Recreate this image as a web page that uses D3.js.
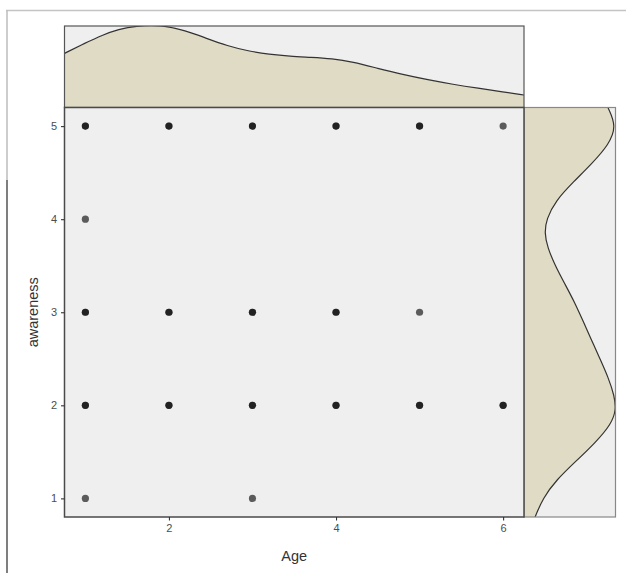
<!DOCTYPE html>
<html><head><meta charset="utf-8">
<script src="https://cdn.jsdelivr.net/npm/d3@7"></script>
<style>body{margin:0;background:#fff}svg{display:block}</style>
</head><body>
<svg id="c" width="626" height="573"></svg>
<script>
// ---- data ----
const ages = [1, 2, 3, 4, 5, 6];
const awarenessLevels = [1, 2, 3, 4, 5];
const xTicks = [2, 4, 6];
const yTicks = [1, 2, 3, 4, 5];
// observed (age, awareness, overlapping count)
const pointAge =       [1,2,3,4,5,6, 1, 1,2,3,4,5, 1,2,3,4,5,6, 1,3];
const pointAwareness = [5,5,5,5,5,5, 4, 3,3,3,3,3, 2,2,2,2,2,2, 1,1];
const pointCount =     [2,2,2,2,2,1, 1, 2,2,2,2,1, 2,2,2,2,2,2, 1,1];
// marginal density of Age
const ageDensX = [0.75,1.0,1.2,1.4,1.6,1.9,2.2,2.45,2.7,2.95,3.2,3.45,3.7,3.95,4.2,4.5,4.8,5.1,5.4,5.7,6.0,6.26];
const ageDensY = [0.166,0.198,0.222,0.240,0.250,0.254,0.236,0.212,0.189,0.173,0.163,0.157,0.154,0.150,0.140,0.120,0.101,0.085,0.071,0.059,0.048,0.038];
// marginal density of awareness
const awDensX = [5.205,5.0,4.8,4.6,4.4,4.2,4.0,3.85,3.7,3.5,3.3,3.1,2.9,2.7,2.5,2.3,2.1,1.95,1.8,1.6,1.4,1.2,1.0,0.795];
const awDensY = [0.322,0.356,0.326,0.262,0.190,0.122,0.086,0.079,0.090,0.120,0.158,0.196,0.228,0.260,0.292,0.324,0.348,0.354,0.336,0.275,0.200,0.125,0.072,0.042];

const svg = d3.select("#c");
const font = "'Liberation Sans', Arial, sans-serif";

// frame lines
svg.append("line").attr("x1",6).attr("x2",626).attr("y1",10.5).attr("y2",10.5).attr("stroke","#c4c4c4").attr("stroke-width",1.5);
svg.append("line").attr("x1",7).attr("x2",7).attr("y1",10).attr("y2",180).attr("stroke","#bdbdbd").attr("stroke-width",1.5);
svg.append("line").attr("x1",7).attr("x2",7).attr("y1",180).attr("y2",573).attr("stroke","#555").attr("stroke-width",1.5);

const L = 64.5, R = 524, T = 107.5, B = 517;
const x = d3.scaleLinear().domain([0.75, 6.25]).range([L, R]);
const y = d3.scaleLinear().domain([0.8, 5.2]).range([B, T]);

const bg = "#efefef", fill = "#e0dbc4";
// top marginal panel
const TT = 26;
const yd = d3.scaleLinear().domain([0, 0.25]).range([T, TT]);
svg.append("clipPath").attr("id","clipTop").append("rect").attr("x",L).attr("y",TT).attr("width",R-L).attr("height",T-TT);
svg.append("rect").attr("x",L).attr("y",TT).attr("width",R-L).attr("height",T-TT).attr("fill",bg);
const topData = ageDensX.map((v,i)=>[v, ageDensY[i]]);
const gTop = svg.append("g").attr("clip-path","url(#clipTop)");
gTop.append("path").datum(topData)
  .attr("d", d3.area().x(d=>x(d[0])).y0(T).y1(d=>yd(d[1])).curve(d3.curveBasis))
  .attr("fill", fill);
gTop.append("path").datum(topData)
  .attr("d", d3.line().x(d=>x(d[0])).y(d=>yd(d[1])).curve(d3.curveBasis))
  .attr("fill","none").attr("stroke","#333").attr("stroke-width",1.2);
svg.append("rect").attr("x",L).attr("y",TT).attr("width",R-L).attr("height",T-TT).attr("fill","none").attr("stroke","#555").attr("stroke-width",1.2);

// right marginal panel
const RR = 615.5;
const xd = d3.scaleLinear().domain([0, 0.35]).range([R, RR-0.5]);
svg.append("clipPath").attr("id","clipRight").append("rect").attr("x",R).attr("y",T).attr("width",RR-R).attr("height",B-T);
svg.append("rect").attr("x",R).attr("y",T).attr("width",RR-R).attr("height",B-T).attr("fill",bg);
const rData = awDensX.map((v,i)=>[v, awDensY[i]]);
const gR = svg.append("g").attr("clip-path","url(#clipRight)");
gR.append("path").datum(rData)
  .attr("d", d3.area().y(d=>y(d[0])).x0(R).x1(d=>xd(d[1])).curve(d3.curveBasis))
  .attr("fill", fill);
gR.append("path").datum(rData)
  .attr("d", d3.line().y(d=>y(d[0])).x(d=>xd(d[1])).curve(d3.curveBasis))
  .attr("fill","none").attr("stroke","#333").attr("stroke-width",1.2);
svg.append("rect").attr("x",R).attr("y",T).attr("width",RR-R).attr("height",B-T).attr("fill","none").attr("stroke","#888").attr("stroke-width",1.2);

// main panel
svg.append("rect").attr("x",L).attr("y",T).attr("width",R-L).attr("height",B-T).attr("fill",bg);

// points
const pts = [];
pointAge.forEach((a,i)=>{ for(let k=0;k<pointCount[i];k++) pts.push([a, pointAwareness[i]]); });
svg.append("g").selectAll("circle").data(pts).join("circle")
  .attr("cx", d=>x(d[0])).attr("cy", d=>y(d[1])).attr("r", 3.6)
  .attr("fill", "#000").attr("fill-opacity", 0.62);

svg.append("rect").attr("x",L).attr("y",T).attr("width",R-L).attr("height",B-T).attr("fill","none").attr("stroke","#4a4a4a").attr("stroke-width",1.5);

// axes
const xAxis = svg.append("g").attr("transform",`translate(0,${B})`)
  .call(d3.axisBottom(x).tickValues(xTicks).tickSize(3.5).tickPadding(4).tickFormat(d3.format("d")));
const yAxis = svg.append("g").attr("transform",`translate(${L},0)`)
  .call(d3.axisLeft(y).tickValues(yTicks).tickSize(3.5).tickPadding(4).tickFormat(d3.format("d")));
[xAxis, yAxis].forEach(g=>{
  g.select(".domain").remove();
  g.selectAll(".tick line").attr("stroke","#333").attr("stroke-width",1.1);
  g.selectAll(".tick text").attr("fill","#4d4d4d").attr("font-size",11).attr("font-family",font);
});

svg.append("text").attr("x",(L+R)/2).attr("y",561).attr("text-anchor","middle")
  .attr("font-family",font).attr("font-size",14.5).attr("fill","#333").text("Age");
svg.append("text").attr("transform",`translate(38,${(T+B)/2}) rotate(-90)`).attr("text-anchor","middle")
  .attr("font-family",font).attr("font-size",14.5).attr("fill","#333").text("awareness");
</script>
</body></html>
